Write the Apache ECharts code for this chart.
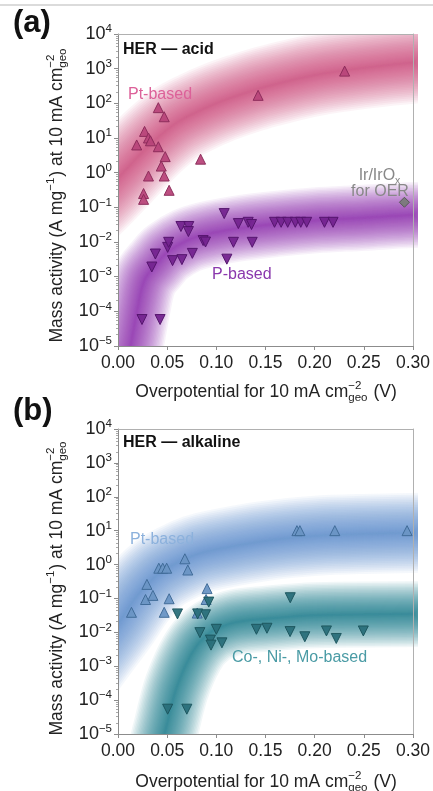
<!DOCTYPE html>
<html>
<head>
<meta charset="utf-8">
<script src="https://cdn.jsdelivr.net/npm/echarts@6/dist/echarts.min.js"></script>
<style>
  html, body { margin: 0; padding: 0; background: #fff; }
  #c { width: 433px; height: 791px; }
</style>
</head>
<body>
<div id="c"></div>
<script>
// ---------- data: HER in acid (panel a) ----------
// [overpotential (V), mass activity (A mg^-1)]
const acidPtPoints = [
  [0.041, 75], [0.047, 41], [0.027, 15.5], [0.031, 10], [0.033, 8.3],
  [0.019, 6.3], [0.041, 5.6], [0.048, 2.9], [0.044, 1.55], [0.084, 2.45],
  [0.031, 0.8], [0.047, 0.8], [0.052, 0.31], [0.026, 0.25], [0.026, 0.17],
  [0.1425, 170], [0.2305, 850]
];
const acidPPoints = [
  [0.0244, 5.8e-5], [0.0428, 5.8e-5], [0.0344, 1.9e-3], [0.038, 4.5e-3],
  [0.0505, 7e-3], [0.0515, 9.8e-3], [0.0555, 2.9e-3], [0.065, 3.1e-3],
  [0.064, 0.028], [0.072, 0.028], [0.0716, 0.020], [0.0756, 4.7e-3],
  [0.0866, 0.011], [0.089, 0.010], [0.108, 0.066], [0.1107, 3.2e-3],
  [0.1174, 9.8e-3], [0.1224, 0.034], [0.1324, 0.037], [0.1358, 0.032],
  [0.1365, 9.8e-3], [0.1592, 0.037], [0.1659, 0.037], [0.1726, 0.037],
  [0.1803, 0.037], [0.1859, 0.037], [0.1919, 0.037], [0.210, 0.037],
  [0.2187, 0.037]
];
const irOerPoint = [[0.2913, 0.14]];
// centre lines of the shaded trend bands
const acidPtBand = [
  [-0.10, 0.003], [-0.05, 0.03], [-0.02, 0.18], [0, 0.7], [0.02, 2.8],
  [0.04, 10], [0.06, 28], [0.08, 56], [0.10, 100], [0.125, 180], [0.15, 300],
  [0.20, 650], [0.25, 1050], [0.30, 1500], [0.34, 1700]
];
const acidPBand = [
  [-0.005, 1e-7], [0.005, 1e-6], [0.013, 1.1e-5], [0.02, 1.26e-4], [0.027, 8e-4],
  [0.04, 2.5e-3], [0.05, 5e-3], [0.07, 0.011], [0.09, 0.0166], [0.12, 0.024],
  [0.16, 0.033], [0.20, 0.042], [0.25, 0.05], [0.30, 0.06], [0.34, 0.063]
];

// ---------- data: HER in alkaline (panel b) ----------
const alkPtPoints = [
  [0.0137, 0.039], [0.0294, 0.26], [0.028, 0.093], [0.0355, 0.123],
  [0.047, 0.039], [0.052, 0.098], [0.0415, 0.78], [0.0455, 0.78],
  [0.0495, 0.78], [0.068, 1.48], [0.071, 0.69], [0.0906, 0.195],
  [0.0896, 0.093], [0.0806, 0.037], [0.182, 10], [0.185, 10],
  [0.2205, 10], [0.294, 10]
];
const alkCoNiMoPoints = [
  [0.0605, 0.035], [0.089, 0.033], [0.0923, 0.078], [0.081, 0.035],
  [0.0833, 0.0098], [0.100, 0.0123], [0.094, 0.0059], [0.0946, 0.0042],
  [0.1057, 0.0049], [0.1408, 0.0123], [0.1515, 0.0132], [0.0505, 5.4e-5],
  [0.070, 5.4e-5], [0.1752, 0.105], [0.175, 0.0105], [0.190, 0.0074],
  [0.212, 0.011], [0.222, 0.0066], [0.2495, 0.011]
];
const alkPtBand = [
  [-0.08, 2e-5], [-0.04, 0.0005], [-0.02, 0.003], [0, 0.018], [0.02, 0.126],
  [0.04, 0.5], [0.06, 1.12], [0.08, 2], [0.10, 2.8], [0.15, 5], [0.20, 7],
  [0.25, 8], [0.34, 9]
];
const alkCoNiMoBand = [
  [0.035, 1e-7], [0.045, 5e-6], [0.05, 2e-5], [0.055, 8e-5], [0.06, 2.5e-4],
  [0.07, 1.26e-3], [0.08, 4e-3], [0.09, 8e-3], [0.10, 0.0126], [0.12, 0.02],
  [0.15, 0.025], [0.20, 0.032], [0.34, 0.035]
];

// ---------- axis ticks ----------
const xTicks = { min: 0, max: 0.3, step: 0.05 };
const yTicks = { min: 1e-5, max: 1e4 };

// ---------- layout ----------
const W = 433, H = 791;
const gridA = { left: 118, top: 34, width: 300, height: 312 };
const gridB = { left: 118, top: 429, width: 300, height: 305 };

// ---------- helpers ----------
const FONT = '"Liberation Sans", Arial, Helvetica, sans-serif';
const measureCtx = document.createElement('canvas').getContext('2d');
function textWidth(t, size, weight) {
  measureCtx.font = (weight || 'normal') + ' ' + size + 'px ' + FONT;
  return measureCtx.measureText(t).width;
}
function txt(t, x, y, size, color, weight, align) {
  return {
    type: 'text', x: x, y: y, silent: true,
    style: {
      text: t, font: (weight || 'normal') + ' ' + size + 'px ' + FONT,
      fill: color || '#222', textAlign: align || 'left', textVerticalAlign: 'middle'
    }
  };
}
// a row of text with optional super/subscripts, centred on (0,0)
function scriptRow(pieces, size, color) {
  const small = size * 0.66;
  let x = 0;
  const kids = [];
  pieces.forEach(function (p) {
    if (typeof p === 'string') {
      kids.push(txt(p, x, 0, size, color));
      x += textWidth(p, size);
    } else {
      let w = 0;
      if (p.sup) { kids.push(txt(p.sup, x, -size * 0.36, small, color)); w = Math.max(w, textWidth(p.sup, small)); }
      if (p.sub) { kids.push(txt(p.sub, x, size * 0.32, small, color)); w = Math.max(w, textWidth(p.sub, small)); }
      x += w + 1;
    }
  });
  kids.forEach(function (k) { k.x -= x / 2; });
  return kids;
}
function raise(el, z) {
  el.z = z;
  if (el.children) el.children.forEach(function (c) { raise(c, z); });
  return el;
}

function logLabel(v) {
  const e = Math.round(Math.log10(v));
  return '{b|10}{s|' + (e < 0 ? '\u2212' + (-e) : String(e)) + '}';
}

const AXIS_COLOR = '#8c8c8c';
function xAxes(gi) {
  return [{
    gridIndex: gi, type: 'value', min: xTicks.min, max: xTicks.max, interval: xTicks.step, z: 6,
    axisLine: { show: true, onZero: false, lineStyle: { color: AXIS_COLOR } },
    axisTick: { show: true, length: 4, lineStyle: { color: AXIS_COLOR } },
    axisLabel: { fontSize: 17.5, color: '#222', margin: 8, fontFamily: FONT,
      formatter: function (v) { return v.toFixed(2); } },
    splitLine: { show: false }
  }, {
    gridIndex: gi, type: 'value', position: 'top', min: xTicks.min, max: xTicks.max, z: 6,
    axisLine: { show: true, onZero: false, lineStyle: { color: '#b0b0b0' } },
    axisTick: { show: false }, axisLabel: { show: false }, splitLine: { show: false }
  }];
}
function yAxes(gi) {
  return [{
    gridIndex: gi, type: 'log', logBase: 10, min: yTicks.min, max: yTicks.max, splitNumber: 9, z: 6,
    axisLine: { show: true, onZero: false, lineStyle: { color: AXIS_COLOR } },
    axisTick: { show: true, length: 4, lineStyle: { color: AXIS_COLOR } },
    minorTick: { show: true, splitNumber: 8, length: 2, lineStyle: { color: '#aaa' } },
    axisLabel: {
      margin: 6, formatter: logLabel,
      rich: {
        b: { fontSize: 18, fontFamily: FONT, color: '#222', lineHeight: 22 },
        s: { fontSize: 11.5, fontFamily: FONT, color: '#222', lineHeight: 12, verticalAlign: 'top' }
      }
    },
    splitLine: { show: false }
  }, {
    gridIndex: gi, type: 'log', logBase: 10, position: 'right', min: yTicks.min, max: yTicks.max, z: 6,
    axisLine: { show: true, onZero: false, lineStyle: { color: '#b0b0b0' } },
    axisTick: { show: false }, axisLabel: { show: false }, splitLine: { show: false }
  }];
}

// soft band: many stacked translucent strokes, narrower ones concentrate colour at the centre
function bandSeries(data, color, maxW, axis) {
  const out = [];
  const N = 30;
  for (let k = 0; k < N; k++) {
    out.push({
      type: 'line', xAxisIndex: axis, yAxisIndex: axis, data: data,
      smooth: 0.35, symbol: 'none', silent: true, animation: false, z: 1,
      lineStyle: { color: color, width: maxW * Math.pow((N - k) / N, 1.4), opacity: 0.064, cap: 'butt', join: 'round' }
    });
  }
  return out;
}
function markerSeries(data, axis, fill, edge, inverted, symbol) {
  return {
    type: 'scatter', xAxisIndex: axis, yAxisIndex: axis, data: data,
    symbol: symbol || 'triangle', symbolSize: 10,
    symbolRotate: inverted ? 180 : 0, z: 4, silent: true, animation: false,
    itemStyle: { color: fill, borderColor: edge, borderWidth: 1, opacity: 0.95 }
  };
}

const series = [].concat(
  bandSeries(acidPtBand, '#d64886', 82, 0),
  bandSeries(acidPBand, '#8e2fb5', 66, 0),
  bandSeries(alkPtBand, '#5b92cc', 80, 2),
  bandSeries(alkCoNiMoBand, '#257f8b', 66, 2),
  [
    markerSeries(acidPtPoints, 0, '#b8467a', '#8a2a58', false),
    markerSeries(acidPPoints, 0, '#74248f', '#52136a', true),
    markerSeries(irOerPoint, 0, '#7a7a7a', '#555', false, 'diamond'),
    markerSeries(alkPtPoints, 2, '#6a95c4', '#3e6996', false),
    markerSeries(alkCoNiMoPoints, 2, '#2a6f7a', '#1b545d', true)
  ]
);

// white masks outside the plot boxes keep the wide band strokes inside them
function masks() {
  const r = function (x, y, w, h) {
    return { type: 'rect', shape: { x: x, y: y, width: w, height: h }, style: { fill: '#fff' }, silent: true, z: 3 };
  };
  const aR = gridA.left + gridA.width, aB = gridA.top + gridA.height;
  const bR = gridB.left + gridB.width, bB = gridB.top + gridB.height;
  return [
    r(0, 0, W, gridA.top),
    r(0, aB, W, gridB.top - aB),
    r(0, bB, W, H - bB),
    r(0, 0, gridA.left, H),
    r(aR, 0, W - aR, H),
    r(bR, 0, W - bR, H)
  ];
}

// axis titles and annotations
const xTitle = ['Overpotential for 10 mA cm', { sup: '\u22122', sub: 'geo' }, ' (V)'];
const yTitle = ['Mass activity (A mg', { sup: '\u22121' }, ') at 10 mA cm', { sup: '\u22122', sub: 'geo' }];

const labels = [
  { type: 'line', shape: { x1: 0, y1: 5, x2: W, y2: 5 }, style: { stroke: '#cfcfcf', lineWidth: 1.5 }, silent: true },
  txt('(a)', 13, 23, 31, '#111', 'bold'),
  txt('(b)', 13, 411, 31, '#111', 'bold'),
  { type: 'group', x: 266, y: 392, children: scriptRow(xTitle, 17.5, '#222') },
  { type: 'group', x: 266, y: 782, children: scriptRow(xTitle, 17.5, '#222') },
  { type: 'group', x: 57, y: 195, rotation: Math.PI / 2, children: scriptRow(yTitle, 17.5, '#222') },
  { type: 'group', x: 57, y: 588, rotation: Math.PI / 2, children: scriptRow(yTitle, 17.5, '#222') },
  txt('HER \u2014 acid', 123, 50, 16, '#111', 'bold'),
  txt('Pt-based', 128, 95, 16, '#dc6199'),
  txt('P-based', 212, 275, 16, '#8a38ad'),
  { type: 'group', x: 380, y: 176, children: scriptRow(['Ir/IrO', { sub: 'x' }], 16, '#888') },
  txt('for OER', 380, 192, 16, '#888', 'normal', 'center'),
  txt('HER \u2014 alkaline', 123, 443, 16, '#111', 'bold'),
  txt('Pt-based', 130, 540, 16, '#8cb1dc'),
  txt('Co-, Ni-, Mo-based', 232, 658, 16, '#4a9ba5')
];
labels.forEach(function (g) { raise(g, 10); });

const chart = echarts.init(document.getElementById('c'), null, { renderer: 'canvas' });
chart.setOption({
  animation: false,
  backgroundColor: '#fff',
  grid: [gridA, gridB],
  xAxis: xAxes(0).concat(xAxes(1)),
  yAxis: yAxes(0).concat(yAxes(1)),
  series: series,
  graphic: masks().concat(labels)
});
</script>
</body>
</html>
